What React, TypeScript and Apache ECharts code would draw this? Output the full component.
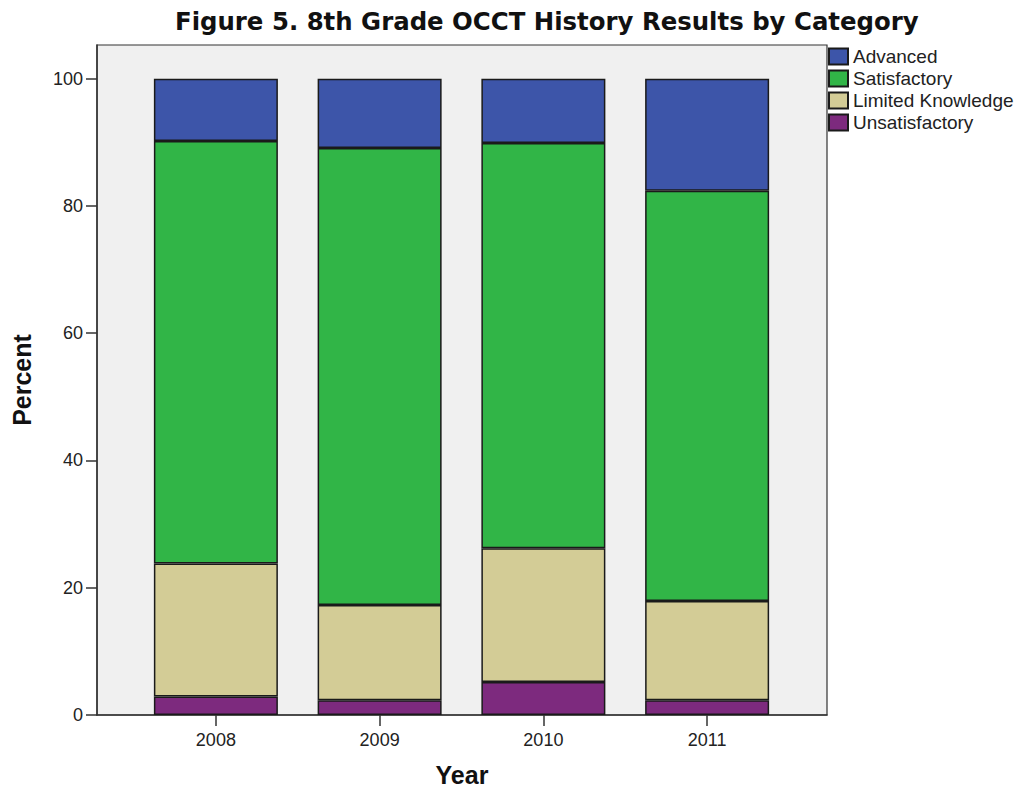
import React, { useEffect, useRef } from "react";
import * as echarts from "echarts";

const years = ["2008", "2009", "2010", "2011"];
const unsatisfactory = [2.9, 2.3, 5.2, 2.3];
const limitedKnowledge = [20.9, 15.0, 21.0, 15.6];
const satisfactory = [66.4, 71.8, 63.7, 64.5];
const advanced = [9.8, 10.9, 10.1, 17.6];
const yTicks = [0, 20, 40, 60, 80, 100];

const FONT = "'Liberation Sans', Arial, sans-serif";
const TITLE_FONT = "'DejaVu Sans', 'Liberation Sans', Arial, sans-serif";
const Y_MAX = 105.3;

export default function App() {
  const ref = useRef<HTMLDivElement>(null);
  useEffect(() => {
    if (!ref.current) return;
    const chart = echarts.init(ref.current, null, { renderer: "svg" });
    const barStyle = (color: string) => ({
      color,
      borderColor: "#1a1a1a",
      borderWidth: 1.5,
    });
    chart.setOption({
      animation: false,
      backgroundColor: "#ffffff",
      textStyle: { fontFamily: FONT },
      title: {
        text: "Figure 5. 8th Grade OCCT History Results by Category",
        left: 175,
        top: 9,
        padding: 0,
        textStyle: { fontFamily: TITLE_FONT, fontSize: 24.4, fontWeight: "bold", color: "#111" },
      },
      legend: {
        orient: "vertical",
        left: 828,
        top: 47,
        padding: 0,
        itemWidth: 19,
        itemHeight: 16,
        itemGap: 3,
        icon: "rect",
        data: ["Advanced", "Satisfactory", "Limited Knowledge", "Unsatisfactory"],
        textStyle: { fontFamily: FONT, fontSize: 19, lineHeight: 19, color: "#222" },
      },
      grid: [
        {
          left: 97,
          top: 45,
          width: 730,
          height: 670,
          show: true,
          backgroundColor: "#f0f0f0",
          borderColor: "#333",
          borderWidth: 1.2,
          outerBoundsMode: "none",
          containLabel: false,
        },
        {
          left: 134,
          top: 45,
          width: 655,
          height: 670,
          outerBoundsMode: "none",
          containLabel: false,
        },
      ],
      xAxis: [
        {
          gridIndex: 0,
          type: "value",
          min: 0,
          max: 1,
          axisLine: { show: true, lineStyle: { color: "#333", width: 1.5 } },
          axisTick: { show: false },
          axisLabel: { show: false },
          splitLine: { show: false },
          name: "Year",
          nameLocation: "middle",
          nameGap: 47,
          nameTextStyle: { fontFamily: FONT, fontSize: 25, fontWeight: "bold", color: "#111" },
        },
        {
          gridIndex: 1,
          type: "category",
          data: years,
          boundaryGap: true,
          axisLine: { show: false },
          axisTick: {
            show: true,
            alignWithLabel: true,
            length: 11,
            lineStyle: { color: "#333", width: 1.5 },
          },
          axisLabel: { fontFamily: FONT, fontSize: 18, color: "#222", margin: 16 },
        },
      ],
      yAxis: [
        {
          gridIndex: 0,
          type: "value",
          min: 0,
          max: Y_MAX,
          interval: 20,
          axisLine: { show: true, lineStyle: { color: "#333", width: 1.5 } },
          axisTick: {
            show: true,
            length: 11,
            customValues: yTicks,
            lineStyle: { color: "#333", width: 1.5 },
          },
          axisLabel: {
            fontFamily: FONT,
            fontSize: 18,
            color: "#222",
            margin: 14,
            customValues: yTicks,
          },
          splitLine: { show: false },
          name: "Percent",
          nameLocation: "middle",
          nameRotate: 90,
          nameGap: 63,
          nameTextStyle: { fontFamily: FONT, fontSize: 25, fontWeight: "bold", color: "#111" },
        },
        {
          gridIndex: 1,
          type: "value",
          min: 0,
          max: Y_MAX,
          show: false,
          splitLine: { show: false },
        },
      ],
      series: [
        {
          name: "Unsatisfactory",
          type: "bar",
          stack: "total",
          xAxisIndex: 1,
          yAxisIndex: 1,
          barWidth: 124,
          data: unsatisfactory,
          itemStyle: barStyle("#7d2a7e"),
        },
        {
          name: "Limited Knowledge",
          type: "bar",
          stack: "total",
          xAxisIndex: 1,
          yAxisIndex: 1,
          barWidth: 124,
          data: limitedKnowledge,
          itemStyle: barStyle("#d3cc96"),
        },
        {
          name: "Satisfactory",
          type: "bar",
          stack: "total",
          xAxisIndex: 1,
          yAxisIndex: 1,
          barWidth: 124,
          data: satisfactory,
          itemStyle: barStyle("#31b547"),
        },
        {
          name: "Advanced",
          type: "bar",
          stack: "total",
          xAxisIndex: 1,
          yAxisIndex: 1,
          barWidth: 124,
          data: advanced,
          itemStyle: barStyle("#3d55a9"),
        },
      ],
    });
    return () => chart.dispose();
  }, []);
  return (
    <div
      ref={ref}
      style={{ position: "fixed", left: 0, top: 0, width: 1018, height: 787 }}
    />
  );
}
